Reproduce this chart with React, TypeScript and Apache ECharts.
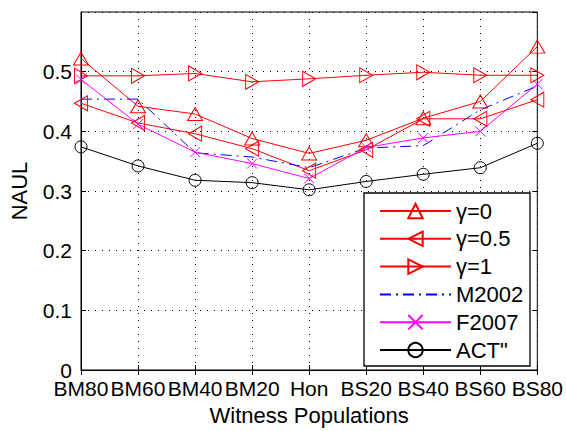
import React, { useEffect, useRef } from "react";
import * as echarts from "echarts";

const categories = ["BM80", "BM60", "BM40", "BM20", "Hon", "BS20", "BS40", "BS60", "BS80"];
const gamma0 = [0.522, 0.442, 0.429, 0.388, 0.363, 0.385, 0.422, 0.45, 0.542];
const gamma05 = [0.447, 0.414, 0.396, 0.371, 0.334, 0.369, 0.421, 0.421, 0.453];
const gamma1 = [0.493, 0.493, 0.497, 0.483, 0.488, 0.494, 0.499, 0.494, 0.494];
const m2002 = [0.454, 0.454, 0.364, 0.357, 0.339, 0.372, 0.376, 0.436, 0.476];
const f2007 = [0.487, 0.412, 0.365, 0.346, 0.321, 0.373, 0.389, 0.4, 0.479];
const actpp = [0.374, 0.342, 0.318, 0.314, 0.302, 0.316, 0.328, 0.339, 0.38];

const FONT = "'Liberation Sans', Arial, Helvetica, sans-serif";

export default function App() {
  const ref = useRef<HTMLDivElement>(null);
  useEffect(() => {
    if (!ref.current) return;
    const chart = echarts.init(ref.current, null, { renderer: "svg" });
    const red = "#ff0000";
    const hollow = (c: string) => ({ color: "rgba(255,255,255,0)", borderColor: c, borderWidth: 1 });
    const line = (c: string) => ({ color: c, width: 1 });
    chart.setOption({
      animation: false,
      backgroundColor: "#fff",
      textStyle: { fontFamily: FONT },
      grid: { left: 76, right: 27, top: 12, bottom: 58, show: true, borderColor: "#000", borderWidth: 1, backgroundColor: "transparent" },
      graphic: [
        { type: "rect", z: 3, shape: { x: 364, y: 193, width: 166, height: 173 }, style: { fill: "#fff", stroke: "#000", lineWidth: 1.3 } },
      ],
      legend: {
        orient: "vertical",
        left: 379,
        top: 200,
        padding: 0,
        z: 5,
        itemWidth: 71,
        itemHeight: 18,
        itemGap: 5.8,
        textStyle: { fontFamily: FONT, fontSize: 22, color: "#000", lineHeight: 18 },
        data: [
          "γ=0",
          "γ=0.5",
          "γ=1",
          { name: "M2002", itemStyle: { opacity: 0 } },
          "F2007",
          "ACT\"",
        ],
      },
      xAxis: [
        {
          type: "category",
          data: categories,
          boundaryGap: false,
          name: "Witness Populations",
          nameLocation: "middle",
          nameGap: 34,
          nameTextStyle: { fontFamily: FONT, fontSize: 22, color: "#000" },
          axisLine: { lineStyle: { color: "#000", width: 1 } },
          axisTick: { inside: true, length: 5, lineStyle: { color: "#000" } },
          axisLabel: { fontFamily: FONT, fontSize: 21, color: "#000", margin: 8, interval: 0 },
          splitLine: { show: true, lineStyle: { color: "#000", type: [1, 6], width: 1 } },
        },
        {
          type: "category",
          data: categories,
          boundaryGap: false,
          position: "top",
          axisLine: { show: false },
          axisTick: { inside: true, length: 5, lineStyle: { color: "#000" } },
          axisLabel: { show: false },
          splitLine: { show: false },
        },
      ],
      yAxis: [
        {
          type: "value",
          min: 0,
          max: 0.6,
          interval: 0.1,
          name: "NAUL",
          nameLocation: "middle",
          nameGap: 51,
          nameTextStyle: { fontFamily: FONT, fontSize: 22, color: "#000" },
          axisLine: { show: true, lineStyle: { color: "#000", width: 1 } },
          axisTick: { show: true, inside: true, length: 5, lineStyle: { color: "#000" } },
          axisLabel: {
            fontFamily: FONT,
            fontSize: 21,
            color: "#000",
            margin: 9,
            showMaxLabel: false,
            formatter: (v: number) => (v >= 0.59 ? "" : String(Math.round(v * 10) / 10)),
          },
          splitLine: { show: true, lineStyle: { color: "#000", type: [1, 6], width: 1 } },
        },
        {
          type: "value",
          min: 0,
          max: 0.6,
          interval: 0.1,
          position: "right",
          axisLine: { show: false },
          axisTick: { show: true, inside: true, length: 5, lineStyle: { color: "#000" } },
          axisLabel: { show: false },
          splitLine: { show: false },
        },
      ],
      series: [
        { name: "γ=0", type: "line", data: gamma0, symbol: "triangle", symbolSize: [15, 13], itemStyle: hollow(red), lineStyle: line(red) },
        { name: "γ=0.5", type: "line", data: gamma05, symbol: "triangle", symbolRotate: 90, symbolSize: [15, 13], itemStyle: hollow(red), lineStyle: line(red) },
        { name: "γ=1", type: "line", data: gamma1, symbol: "triangle", symbolRotate: -90, symbolSize: [15, 13], itemStyle: hollow(red), lineStyle: line(red) },
        { name: "M2002", type: "line", data: m2002, symbol: "none", itemStyle: { color: "#0000ff" }, lineStyle: { color: "#0000ff", width: 1, type: [11, 5, 2, 5] } },
        { name: "F2007", type: "line", data: f2007, symbol: "path://M0,0L10,10M10,0L0,10", symbolSize: 10, itemStyle: hollow("#ff00ff"), lineStyle: line("#ff00ff") },
        { name: "ACT\"", type: "line", data: actpp, symbol: "circle", symbolSize: 12, itemStyle: hollow("#000"), lineStyle: line("#000") },
      ],
    });
    return () => chart.dispose();
  }, []);
  return <div ref={ref} style={{ width: 566, height: 431, position: "absolute", left: 0, top: 0 }} />;
}
